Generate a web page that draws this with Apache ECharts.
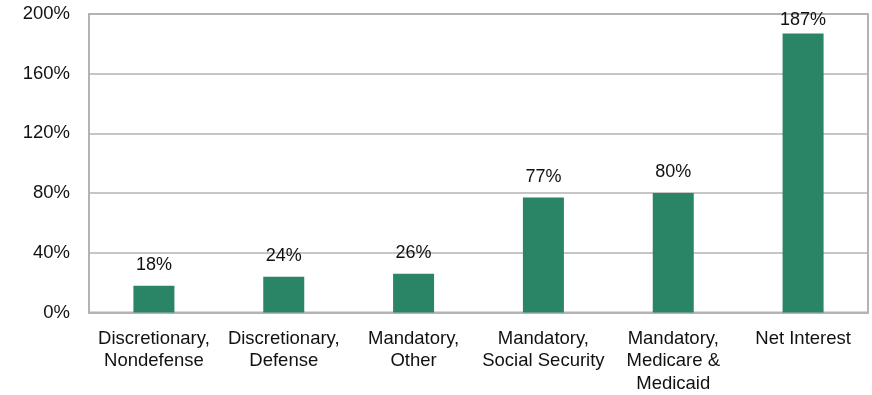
<!DOCTYPE html>
<html><head><meta charset="utf-8">
<script src="https://cdn.jsdelivr.net/npm/echarts@6/dist/echarts.min.js"></script>
<style>html,body{margin:0;padding:0;background:#fff}#c{width:872px;height:395px}</style>
</head><body><div id="c"></div>
<script>
const categories = ["Discretionary,\nNondefense","Discretionary,\nDefense","Mandatory,\nOther","Mandatory,\nSocial Security","Mandatory,\nMedicare &\nMedicaid","Net Interest"];
const values = [18, 24, 26, 77, 80, 187];
const yTicks = {min: 0, max: 200, interval: 40};

const FONT = 'Liberation Sans, Arial, sans-serif';
const chart = echarts.init(document.getElementById('c'));
chart.setOption({
  animation: false,
  grid: {left: 89, right: 4, top: 14, bottom: 82, show: true, borderColor: '#b3b3b3', borderWidth: 2},
  xAxis: {
    type: 'category', data: categories,
    axisLine: {show: true, lineStyle: {color: '#b3b3b3', width: 2}},
    axisTick: {show: false},
    axisLabel: {color: '#111', fontSize: 18.5, fontFamily: FONT, lineHeight: 22.5, margin: 15, interval: 0}
  },
  yAxis: {
    type: 'value', min: yTicks.min, max: yTicks.max, interval: yTicks.interval,
    axisLine: {show: true, lineStyle: {color: '#b3b3b3', width: 2}},
    axisTick: {show: false},
    splitLine: {lineStyle: {color: '#b3b3b3', width: 1.5}},
    axisLabel: {color: '#111', fontSize: 18.5, fontFamily: FONT, margin: 19, formatter: '{value}%'}
  },
  series: [{
    type: 'bar', barWidth: 41,
    data: values.map(v => v > 150 ? {value: v, label: {distance: 4}} : v),
    itemStyle: {color: '#2a8466'},
    label: {show: true, position: 'top', distance: 12, color: '#111', fontSize: 18, fontFamily: FONT, formatter: '{c}%'}
  }]
});
</script></body></html>
